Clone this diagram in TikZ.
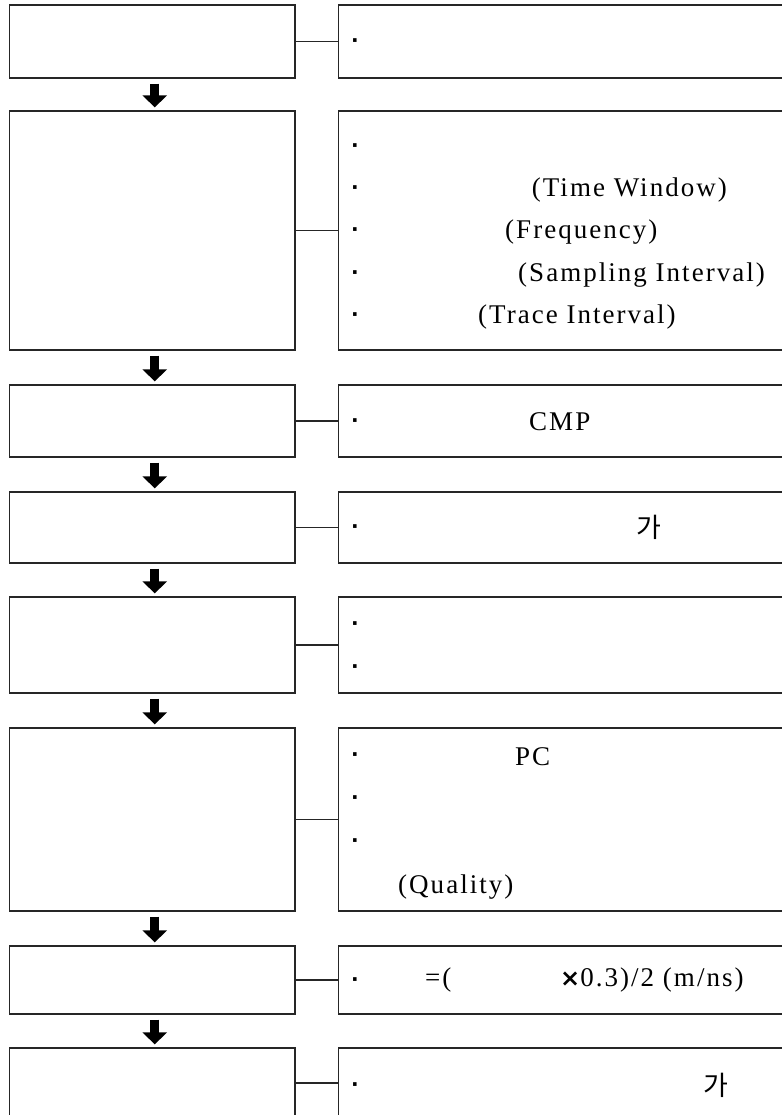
\documentclass[tikz,border=0pt]{standalone}
\usepackage{fontspec}
\setmainfont{Liberation Serif}
\newfontfamily\spaced{Liberation Serif}[LetterSpace=7.5]
\newfontfamily\kr{Noto Sans CJK KR}
\newfontfamily\dv{DejaVu Sans}
\usetikzlibrary{arrows.meta,calc}
\begin{document}
\begin{tikzpicture}[x=1bp,y=-1bp,
  box/.style={draw=black!85, line width=1.3bp, inner sep=0pt, rectangle},
  lbox/.style={box, minimum width=285.5bp},
  rbox/.style={box, minimum width=461.5bp},
  link/.style={draw=black!85, line width=1.3bp},
  flow/.style={line width=9bp, -{Triangle[width=24bp,length=12bp]}, shorten <=5bp, shorten >=3bp},
  txt/.style={inner sep=0pt, anchor=west, font=\spaced\fontsize{27bp}{32bp}\selectfont},
  bul/.style={inner sep=0pt, font=\dv\bfseries\fontsize{20bp}{24bp}\selectfont},
  krt/.style={inner sep=0pt, font=\kr\fontsize{27bp}{32bp}\selectfont}]
\clip (0,0) rectangle (782,1115);
\fill[white] (0,0) rectangle (782,1115);
% left boxes
\node[lbox, minimum height=73bp]  (L1) at (152.25,41.5) {};
\node[lbox, minimum height=239bp] (L2) at (152.25,230.5) {};
\node[lbox, minimum height=72bp]  (L3) at (152.25,421) {};
\node[lbox, minimum height=71bp]  (L4) at (152.25,527.5) {};
\node[lbox, minimum height=96bp]  (L5) at (152.25,645) {};
\node[lbox, minimum height=183bp] (L6) at (152.25,819.5) {};
\node[lbox, minimum height=68bp]  (L7) at (152.25,980) {};
\node[lbox, minimum height=70bp]  (L8) at (152.25,1083) {};
% right boxes
\node[rbox, minimum height=73bp]  (R1) at (569.25,41.5) {};
\node[rbox, minimum height=239bp] (R2) at (569.25,230.5) {};
\node[rbox, minimum height=72bp]  (R3) at (569.25,421) {};
\node[rbox, minimum height=71bp]  (R4) at (569.25,527.5) {};
\node[rbox, minimum height=96bp]  (R5) at (569.25,645) {};
\node[rbox, minimum height=183bp] (R6) at (569.25,819.5) {};
\node[rbox, minimum height=68bp]  (R7) at (569.25,980) {};
\node[rbox, minimum height=70bp]  (R8) at (569.25,1083) {};
% connectors
\foreach \i in {1,...,8} {\draw[link] (L\i.east) -- (R\i.west);}
% flow arrows
\foreach \i/\j in {1/2,2/3,3/4,4/5,5/6,6/7,7/8}
  {\draw[flow] ([xshift=2.5bp]L\i.south) -- ([xshift=2.5bp]L\j.north);}
% texts
\node[bul] (d1) at (355,43) {·};
\node[bul] (d2a) at (355,148) {·};
\node[bul] (d2b) at (355,190) {·};
\node[bul] (d2c) at (355,232) {·};
\node[bul] (d2d) at (355,275) {·};
\node[bul] (d2e) at (355,317) {·};
\node[txt] (t2b) at (531.7,190) {(Time Window)};
\node[txt] (t2c) at (505,232) {(Frequency)};
\node[txt] (t2d) at (518,275) {(Sampling Interval)};
\node[txt] (t2e) at (478,317) {(Trace Interval)};
\node[bul] (d3) at (355,423) {·};
\node[txt] (t3) at (529,422) {CMP};
\node[bul] (d4) at (355,529) {·};
\node[krt] (t4) at (649,527) {가};
\node[bul] (d5a) at (355,626) {·};
\node[bul] (d5b) at (355,669) {·};
\node[bul] (d6a) at (355,757) {·};
\node[bul] (d6b) at (355,800) {·};
\node[bul] (d6c) at (355,843) {·};
\node[txt] (t6a) at (515,757) {PC};
\node[txt] (t6b) at (398,887) {(Quality)};
\node[bul] (d7) at (355,982) {·};
\node[txt] (t7a) at (425,980) {=(};
\node[txt] (t7b) at (560,980) {{\dv\bfseries\fontsize{24bp}{28bp}\selectfont ×}0.3)/2 (m/ns)};
\node[bul] (d8) at (355,1087) {·};
\node[krt] (t8) at (716,1085) {가};
\end{tikzpicture}
\end{document}
